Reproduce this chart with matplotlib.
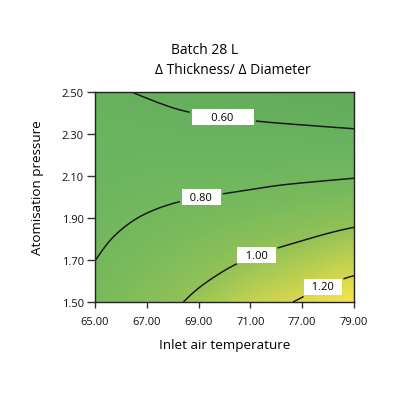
import numpy as np
import matplotlib
matplotlib.use('Agg')
import matplotlib.pyplot as plt
import matplotlib.tri as mtri
from matplotlib.colors import LinearSegmentedColormap, Normalize

plt.rcParams['font.family'] = ['Open Sans', 'DejaVu Sans']

# ---- data ----
title1 = 'Batch 28 L'
title2 = 'Δ Thickness/ Δ Diameter'
x_label = 'Inlet air temperature'
y_label = 'Atomisation pressure'
temp_tick_labels = ['65.00', '67.00', '69.00', '71.00', '77.00', '79.00']
pressure_ticks = [1.50, 1.70, 1.90, 2.10, 2.30, 2.50]

# grid of estimated response values; columns = half-steps between temperature ticks
grid_temp_index = [0, 0.5, 1, 1.5, 2, 2.5, 3, 3.5, 4, 4.5, 5]
grid_pressure = [1.5, 1.6, 1.7, 1.8, 1.9, 2.0, 2.1, 2.2, 2.3, 2.4, 2.5]
response = [
    [0.860, 0.895, 0.935, 0.979, 1.031, 1.084, 1.136, 1.175, 1.217, 1.270, 1.310],
    [0.830, 0.867, 0.903, 0.941, 0.984, 1.027, 1.071, 1.107, 1.142, 1.186, 1.222],
    [0.799, 0.840, 0.871, 0.903, 0.937, 0.973, 1.007, 1.038, 1.068, 1.104, 1.135],
    [0.778, 0.812, 0.840, 0.865, 0.891, 0.918, 0.946, 0.970, 0.994, 1.022, 1.048],
    [0.757, 0.784, 0.808, 0.827, 0.845, 0.864, 0.884, 0.903, 0.921, 0.942, 0.962],
    [0.736, 0.755, 0.772, 0.787, 0.798, 0.809, 0.822, 0.836, 0.849, 0.863, 0.876],
    [0.715, 0.725, 0.736, 0.743, 0.748, 0.754, 0.760, 0.769, 0.776, 0.783, 0.791],
    [0.694, 0.696, 0.699, 0.699, 0.698, 0.699, 0.700, 0.702, 0.703, 0.705, 0.706],
    [0.673, 0.667, 0.662, 0.655, 0.648, 0.643, 0.639, 0.635, 0.631, 0.626, 0.620],
    [0.651, 0.637, 0.626, 0.611, 0.598, 0.589, 0.580, 0.571, 0.562, 0.553, 0.546],
    [0.630, 0.608, 0.589, 0.567, 0.551, 0.541, 0.532, 0.519, 0.505, 0.490, 0.480],
]
contour_levels = [0.60, 0.80, 1.00, 1.20]
label_text = {0.60: '      0.60      ', 0.80: '  0.80  ', 1.00: '  1.00  ', 1.20: '  1.20  '}
label_spots = [(2.47, 2.39), (2.05, 2.00), (3.13, 1.72), (4.39, 1.58)]

# ---- colours ----
vmin, vmax = 0.48, 1.31
stops = [(0.48, '#63ab5b'), (0.70, '#6bb560'), (0.85, '#78ba5c'),
         (1.00, '#92c257'), (1.15, '#c6d350'), (1.31, '#f8e448')]
cmap = LinearSegmentedColormap.from_list(
    'gy', [((v - vmin) / (vmax - vmin), c) for v, c in stops])

Z = np.array(response)
gx = np.array(grid_temp_index, dtype=float)
gy = np.array(grid_pressure, dtype=float)
nx, ny = len(gx), len(gy)

# smooth the surface with matplotlib's cubic triangulation interpolator
GX, GY = np.meshgrid(gx, gy)
tris = []
for i in range(ny - 1):
    for j in range(nx - 1):
        k = i * nx + j
        tris.append([k, k + 1, k + nx + 1])
        tris.append([k, k + nx + 1, k + nx])
tri = mtri.Triangulation(GX.ravel(), GY.ravel(), triangles=np.array(tris))
interp = mtri.CubicTriInterpolator(tri, Z.ravel(), kind='min_E')
ex, ey = 1e-6, 1e-7
fx = np.linspace(gx[0] + ex, gx[-1] - ex, 241)
fy = np.linspace(gy[0] + ey, gy[-1] - ey, 241)
FX, FY = np.meshgrid(fx, fy)
FZ = np.ma.filled(interp(FX, FY), np.nan)

fig = plt.figure(figsize=(4.05, 4.02), dpi=100)
ax = fig.add_axes([95 / 405, 1 - 303 / 402, (354 - 95) / 405, (303 - 93) / 402])

ax.imshow(FZ, origin='lower', aspect='auto', interpolation='bilinear',
          extent=(gx[0], gx[-1], gy[0], gy[-1]),
          cmap=cmap, norm=Normalize(vmin, vmax))

cs = ax.contour(FX, FY, FZ, levels=contour_levels, colors='#1a1a1a', linewidths=1.1)
texts = ax.clabel(cs, fmt=label_text, manual=label_spots, inline=True, fontsize=8)
for t in texts:
    t.set_rotation(0)
    t.set_color('#000000')
    t.set_bbox(dict(facecolor='white', edgecolor='none', pad=1.8))

ax.set_xlim(gx[0], gx[-1])
ax.set_ylim(gy[0], gy[-1])
ax.set_xticks(range(len(temp_tick_labels)))
ax.set_xticklabels(temp_tick_labels)
ax.set_yticks(pressure_ticks)
ax.set_yticklabels([f'{p:.2f}' for p in pressure_ticks])
ax.tick_params(axis='x', direction='out', length=4, width=1, labelsize=8,
               colors='#333333', labelcolor='#111111', pad=6)
ax.tick_params(axis='y', direction='out', length=6, width=1, labelsize=8,
               colors='#333333', labelcolor='#111111', pad=2)
for s in ax.spines.values():
    s.set_color('#222222')
    s.set_linewidth(1.0)

ax.set_xlabel(x_label, fontsize=9.7, color='#000000', labelpad=8)
ax.set_ylabel(y_label, fontsize=9.7, color='#000000')
ax.yaxis.set_label_coords(-0.195, 0.548)

fig.text(205 / 405, 1 - 50 / 402, title1, ha='center', va='center', fontsize=10, color='#000000')
fig.text(233 / 405, 1 - 71 / 402, title2, ha='center', va='center', fontsize=10, color='#000000')

fig.savefig('out.png', dpi=100, facecolor='white')
